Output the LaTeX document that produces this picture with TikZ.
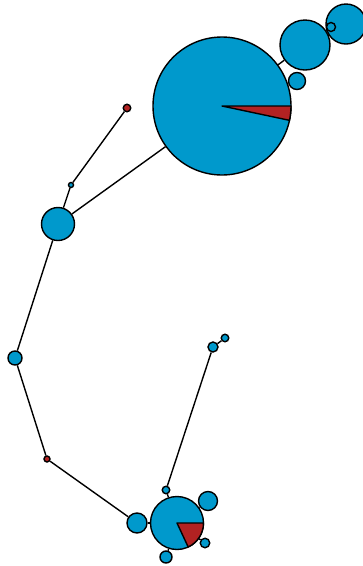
\documentclass[tikz,border=0pt]{standalone}
\usepackage{tikz}
\usetikzlibrary{backgrounds}
\definecolor{nodeblue}{HTML}{0099CC}
\definecolor{wedgered}{HTML}{B22222}

\begin{document}
\begin{tikzpicture}[x=1pt,y=1pt,
  dot/.style={circle,draw=black,fill=nodeblue,line width=1.4pt,inner sep=0pt},
  hot/.style={dot,fill=wedgered},
  link/.style={draw=black,line width=1.4pt},
  wedge/.style={fill=wedgered,draw=black,line width=1.4pt,line join=round}]
  \useasboundingbox (0,0) rectangle (363,-566);
  % upper cluster
  \node[dot,minimum size=138pt] (hub) at (222,-106) {};
  \node[dot,minimum size=50pt] (ring) at (305,-45) {};
  \node[dot,minimum size=40pt] (tip) at (346,-24) {};
  \node[dot,minimum size=9pt] (knot) at (331,-27) {};
  \node[dot,minimum size=17pt] (bud) at (297,-81) {};
  \filldraw[wedge] (hub.center) -- ++(0:69pt) arc[start angle=0,end angle=-12,radius=69pt] -- cycle;
  % left chain
  \node[dot,minimum size=33pt] (elbow) at (58,-224) {};
  \node[dot,minimum size=5pt] (twig) at (71,-185) {};
  \node[hot,minimum size=7.5pt] (leaf) at (127,-108) {};
  \node[dot,minimum size=14pt] (bend) at (15,-358) {};
  \node[hot,minimum size=6pt] (low) at (47,-459) {};
  % lower cluster
  \node[dot,minimum size=53pt] (base) at (177,-523) {};
  \filldraw[wedge] (base.center) -- ++(0:26.5pt) arc[start angle=0,end angle=-65,radius=26.5pt] -- cycle;
  \node[dot,minimum size=20pt] (west) at (137,-523) {};
  \node[dot,minimum size=7.5pt] (top) at (166,-490) {};
  \node[dot,minimum size=19pt] (ne) at (208,-501) {};
  \node[dot,minimum size=9.5pt] (se) at (205,-543) {};
  \node[dot,minimum size=12pt] (south) at (166,-557) {};
  \node[dot,minimum size=10pt] (stem) at (213,-347) {};
  \node[dot,minimum size=7.5pt] (bulb) at (225,-338) {};
  \begin{scope}[on background layer]
    \draw[link] (hub) -- (ring);
    \draw[link] (ring) -- (knot);
    \draw[link] (knot.center) -- (tip.center);
    \draw[link] (hub) -- (elbow);
    \draw[link] (elbow) -- (twig);
    \draw[link] (twig) -- (leaf);
    \draw[link] (elbow) -- (bend);
    \draw[link] (bend) -- (low);
    \draw[link] (low) -- (west);
    \draw[link] (west) -- (base);
    \draw[link] (base) -- (top);
    \draw[link] (top) -- (stem);
    \draw[link] (stem) -- (bulb);
    \draw[link] (base) -- (ne);
    \draw[link] (base) -- (se);
    \draw[link] (base) -- (south);
  \end{scope}
\end{tikzpicture}
\end{document}
